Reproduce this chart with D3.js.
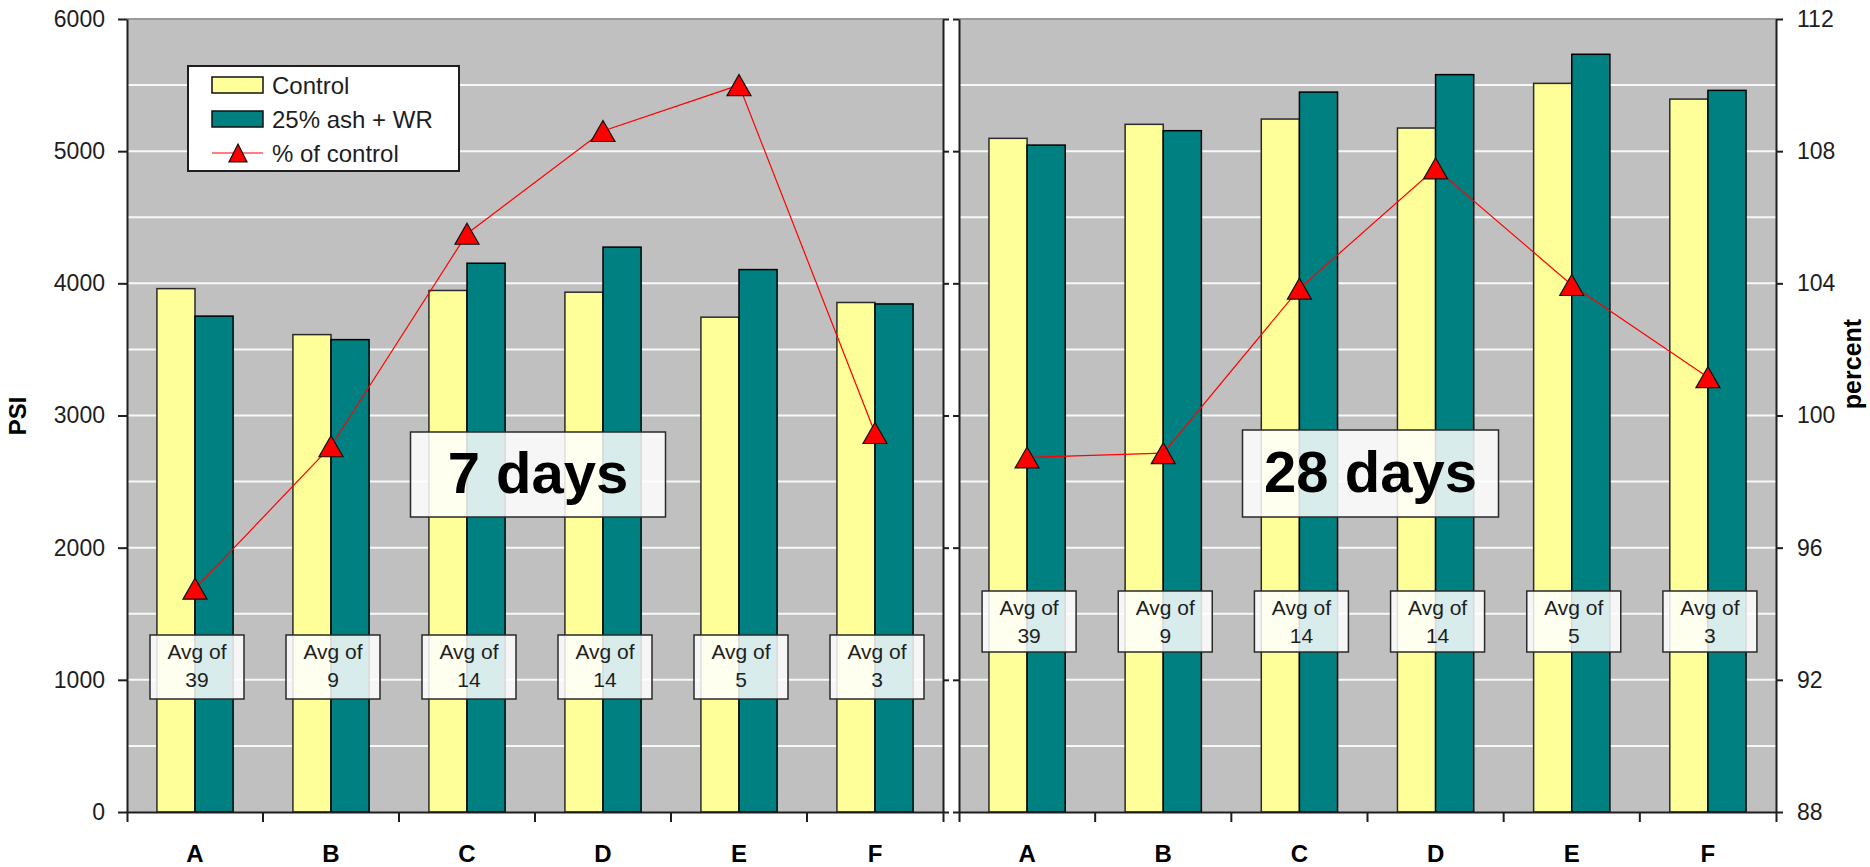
<!DOCTYPE html>
<html>
<head>
<meta charset="utf-8">
<script src="https://cdn.jsdelivr.net/npm/d3@7/dist/d3.min.js"></script>
<style>
  html, body { margin: 0; padding: 0; background: #ffffff; }
  svg { display: block; font-family: "Liberation Sans", Arial, sans-serif; }
</style>
</head>
<body>
<svg id="chart" width="1870" height="867"></svg>
<script>
// ---- data ----
const categories = ["A", "B", "C", "D", "E", "F"];
const sampleCounts = ["39", "9", "14", "14", "5", "3"];

const control7 = [3960, 3612, 3946, 3933, 3744, 3855];
const ash7 = [3752, 3574, 4152, 4274, 4104, 3844];
const pct7 = [94.76, 99.07, 105.5, 108.61, 110.0, 99.47];

const control28 = [5097, 5203, 5243, 5175, 5513, 5394];
const ash28 = [5046, 5155, 5447, 5579, 5733, 5460];
const pct28 = [98.73, 98.86, 103.84, 107.48, 103.95, 101.16];

const psiTicks = [0, 1000, 2000, 3000, 4000, 5000, 6000];
const psiGrid = [500, 1000, 1500, 2000, 2500, 3000, 3500, 4000, 4500, 5000, 5500];
const pctTicks = [88, 92, 96, 100, 104, 108, 112];
const panelTitles = ["7 days", "28 days"];
const seriesNames = ["Control", "25% ash + WR", "% of control"];

// ---- styling ----
const FONT = "'Liberation Sans', Arial, sans-serif";
const C_CONTROL = "#ffff99";
const C_ASH = "#008080";
const C_LINE = "#ff0000";
const C_PLOT = "#c0c0c0";
const C_AXIS = "#1e1e1e";

const svg = d3.select("#chart");
const plotTop = 19, plotBottom = 812;

const y = d3.scaleLinear().domain([0, 6000]).range([plotBottom, plotTop]);
const yPct = d3.scaleLinear().domain([88, 112]).range([plotBottom, plotTop]);
const plain = d3.format("d");

const panels = [
  { x0: 127, x1: 943, control: control7, ash: ash7, pct: pct7, title: panelTitles[0],
    noteTop: 635, noteH: 64, titleTop: 432, titleH: 85, titleW: 255 },
  { x0: 959, x1: 1776, control: control28, ash: ash28, pct: pct28, title: panelTitles[1],
    noteTop: 591, noteH: 61, titleTop: 430, titleH: 87, titleW: 256 }
];

// triangle marker centred on its bounding box
function triangle(w, h) {
  return `M0,${-h / 2}L${w / 2},${h / 2}L${-w / 2},${h / 2}Z`;
}

panels.forEach((p, pi) => {
  const x = d3.scaleBand().domain(categories).range([p.x0, p.x1]).padding(0);
  const bw = x.bandwidth();
  const groupW = bw * 0.56;
  const xs = d3.scaleBand().domain(["control", "ash"])
    .range([(bw - groupW) / 2, (bw + groupW) / 2]).padding(0);

  const g = svg.append("g");

  // plot background
  g.append("rect")
    .attr("x", p.x0).attr("y", plotTop)
    .attr("width", p.x1 - p.x0).attr("height", plotBottom - plotTop)
    .attr("fill", C_PLOT);

  // grid lines
  g.selectAll(".grid").data(psiGrid).join("line")
    .attr("x1", p.x0).attr("x2", p.x1)
    .attr("y1", d => y(d)).attr("y2", d => y(d))
    .attr("stroke", "#f8f8f8").attr("stroke-width", 2);

  // top border
  g.append("line")
    .attr("x1", p.x0).attr("x2", p.x1)
    .attr("y1", y(6000)).attr("y2", y(6000))
    .attr("stroke", "#9a9a9a").attr("stroke-width", 2);

  // bars
  const rows = categories.map((c, i) => ({ c, control: p.control[i], ash: p.ash[i], pct: p.pct[i], n: sampleCounts[i] }));
  const groups = g.selectAll(".bars").data(rows).join("g")
    .attr("transform", d => `translate(${x(d.c)},0)`);
  groups.append("rect")
    .attr("x", xs("control")).attr("width", xs.bandwidth())
    .attr("y", d => y(d.control)).attr("height", d => y(0) - y(d.control))
    .attr("fill", C_CONTROL).attr("stroke", "#2a2a2a").attr("stroke-width", 1.5);
  groups.append("rect")
    .attr("x", xs("ash")).attr("width", xs.bandwidth())
    .attr("y", d => y(d.ash)).attr("height", d => y(0) - y(d.ash))
    .attr("fill", C_ASH).attr("stroke", "#000").attr("stroke-width", 1.5);

  // percent-of-control line
  const cx = d => x(d.c) + bw / 2;
  g.append("path").datum(rows)
    .attr("fill", "none").attr("stroke", C_LINE).attr("stroke-width", 1.2)
    .attr("d", d3.line().x(cx).y(d => yPct(d.pct)));
  g.selectAll(".marker").data(rows).join("path")
    .attr("transform", d => `translate(${cx(d)},${yPct(d.pct)})`)
    .attr("d", triangle(24, 21))
    .attr("fill", C_LINE).attr("stroke", "#111").attr("stroke-width", 1.2);

  // edge axes
  if (pi === 0) {
    g.append("g").attr("transform", `translate(${p.x1},0)`)
      .call(d3.axisRight(y).tickValues(psiTicks).tickSize(6).tickSizeOuter(0).tickFormat(""))
      .call(a => a.selectAll("line,path").attr("stroke", C_AXIS).attr("stroke-width", 2));
    g.append("g").attr("transform", `translate(${p.x0},0)`)
      .call(d3.axisLeft(y).tickValues(psiTicks).tickFormat(plain).tickSize(9).tickSizeOuter(0).tickPadding(13))
      .call(a => a.selectAll("line,path").attr("stroke", C_AXIS).attr("stroke-width", 2))
      .call(a => a.selectAll("text").attr("fill", C_AXIS).style("font-size", "23px").style("font-family", FONT));
  } else {
    g.append("g").attr("transform", `translate(${p.x0},0)`)
      .call(d3.axisLeft(y).tickValues(psiTicks).tickSize(6).tickSizeOuter(0).tickFormat(""))
      .call(a => a.selectAll("line,path").attr("stroke", C_AXIS).attr("stroke-width", 2));
    g.append("g").attr("transform", `translate(${p.x1},0)`)
      .call(d3.axisRight(yPct).tickValues(pctTicks).tickFormat(plain).tickSize(7).tickSizeOuter(0).tickPadding(14))
      .call(a => a.selectAll("line,path").attr("stroke", C_AXIS).attr("stroke-width", 2))
      .call(a => a.selectAll("text").attr("fill", C_AXIS).style("font-size", "23px").style("font-family", FONT));
  }

  // bottom category axis
  const bottom = g.append("g").attr("transform", `translate(0,${plotBottom})`)
    .call(d3.axisBottom(x).tickSize(0).tickSizeOuter(10).tickPadding(33))
    .call(a => a.select(".domain").attr("stroke", C_AXIS).attr("stroke-width", 2))
    .call(a => a.selectAll("text").attr("fill", "#000").style("font-size", "24px")
      .style("font-weight", "bold").style("font-family", FONT));
  bottom.selectAll(".sep").data(categories.slice(1)).join("line")
    .attr("x1", d => x(d)).attr("x2", d => x(d))
    .attr("y1", 0).attr("y2", 10)
    .attr("stroke", C_AXIS).attr("stroke-width", 2);

  // "Avg of n" notes
  const noteW = 94;
  const notes = g.selectAll(".note").data(rows).join("g")
    .attr("transform", d => `translate(${cx(d) + 2 - noteW / 2},${p.noteTop})`);
  notes.append("rect")
    .attr("width", noteW).attr("height", p.noteH)
    .attr("fill", "#ffffff").attr("fill-opacity", 0.85)
    .attr("stroke", "#2a2a2a").attr("stroke-width", 1.5);
  notes.append("text")
    .attr("x", noteW / 2).attr("y", 24)
    .attr("text-anchor", "middle").attr("fill", "#1e1e1e")
    .style("font-size", "21px").style("font-family", FONT)
    .text("Avg of");
  notes.append("text")
    .attr("x", noteW / 2).attr("y", 52)
    .attr("text-anchor", "middle").attr("fill", "#1e1e1e")
    .style("font-size", "21px").style("font-family", FONT)
    .text(d => d.n);

  // panel title
  const tcx = x("D") + 3;
  const tg = g.append("g").attr("transform", `translate(${tcx - p.titleW / 2},${p.titleTop})`);
  tg.append("rect")
    .attr("width", p.titleW).attr("height", p.titleH)
    .attr("fill", "#ffffff").attr("fill-opacity", 0.85)
    .attr("stroke", "#2a2a2a").attr("stroke-width", 1.5);
  tg.append("text")
    .attr("x", p.titleW / 2).attr("y", p.titleH / 2 + 18)
    .attr("text-anchor", "middle").attr("fill", "#000")
    .style("font-size", "58px").style("font-weight", "bold").style("font-family", FONT)
    .text(p.title);
});

// axis titles
svg.append("text")
  .attr("transform", `translate(26,416) rotate(-90)`)
  .attr("text-anchor", "middle").attr("fill", "#000")
  .style("font-size", "24px").style("font-weight", "bold").style("font-family", FONT)
  .text("PSI");
svg.append("text")
  .attr("transform", `translate(1861,364) rotate(-90)`)
  .attr("text-anchor", "middle").attr("fill", "#000")
  .style("font-size", "25px").style("font-weight", "bold").style("font-family", FONT)
  .text("percent");

// legend
const lg = svg.append("g").attr("transform", "translate(188,66)");
lg.append("rect").attr("width", 271).attr("height", 105)
  .attr("fill", "#ffffff").attr("stroke", "#1e1e1e").attr("stroke-width", 2);
const legendRows = [
  { name: seriesNames[0], type: "bar", color: C_CONTROL, y: 19 },
  { name: seriesNames[1], type: "bar", color: C_ASH, y: 53 },
  { name: seriesNames[2], type: "line", color: C_LINE, y: 87 }
];
const li = lg.selectAll(".item").data(legendRows).join("g")
  .attr("transform", d => `translate(0,${d.y})`);
li.filter(d => d.type === "bar").append("rect")
  .attr("x", 24).attr("y", -8).attr("width", 51).attr("height", 16)
  .attr("fill", d => d.color).attr("stroke", "#111").attr("stroke-width", 1.5);
const ll = li.filter(d => d.type === "line");
ll.append("line").attr("x1", 24).attr("x2", 75).attr("y1", 0).attr("y2", 0)
  .attr("stroke", C_LINE).attr("stroke-width", 1.2);
ll.append("path").attr("transform", "translate(50,0)")
  .attr("d", triangle(18, 18))
  .attr("fill", C_LINE).attr("stroke", "#111").attr("stroke-width", 1.2);
li.append("text")
  .attr("x", 84).attr("y", 8.5)
  .attr("fill", "#1e1e1e")
  .style("font-size", "24px").style("font-family", FONT)
  .text(d => d.name);
</script>
</body>
</html>
